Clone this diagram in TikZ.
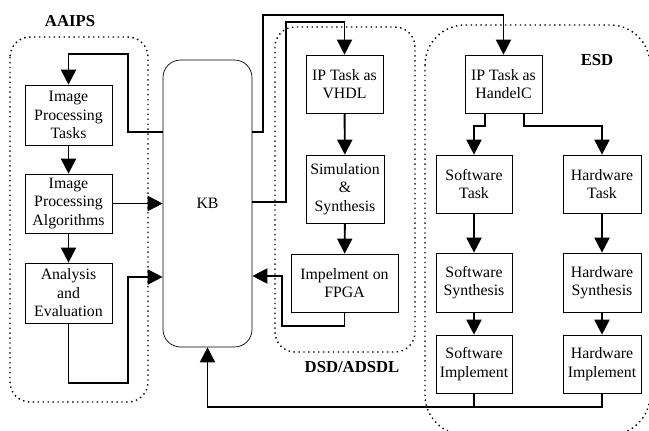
\documentclass[tikz,border=0pt]{standalone}
\usepackage{fontspec}
\setmainfont{Liberation Serif}
\usetikzlibrary{arrows.meta}

\tikzset{
	blk/.style={draw, thin, align=center, inner sep=1pt, font=\fontsize{9}{10.5}\selectfont},
	flow/.style={line width=1.1pt, -{Triangle[length=0.3cm,width=0.3cm]}},
	wire/.style={line width=1.1pt},
	zone/.style={dotted, thick, rounded corners=0.4cm},
	zonelabel/.style={font=\bfseries\fontsize{9.5}{11}\selectfont}
}

\begin{document}
\begin{tikzpicture}[x=0.02cm, y=-0.02cm]
	\useasboundingbox (0,0) rectangle (649,430);
	\clip (0,0) rectangle (649,430);
	% dotted groups
	\draw[zone] (10,37) rectangle (148,402);
	\draw[zone] (275,27) rectangle (415,352);
	\draw[zone, rounded corners=0.8cm] (425,25) rectangle (650,435);
	\node[zonelabel] (laaips) at (70,21) {AAIPS};
	\node[zonelabel] (ldsd) at (352,367) {DSD/ADSDL};
	\node[zonelabel] (lesd) at (597,60) {ESD};
	% AAIPS
	\node[blk, minimum width=1.74cm, minimum height=1.2cm] (tasks) at (68.5,115) {Image\\Processing\\Tasks};
	\node[blk, minimum width=1.74cm, minimum height=1.18cm] (algo) at (68.5,203.5) {Image\\Processing\\Algorithms};
	\node[blk, minimum width=1.74cm, minimum height=1.2cm] (eval) at (68.5,293) {Analysis\\and\\Evaluation};
	% knowledge base
	\node[draw, thin, rounded corners=0.35cm, minimum width=1.78cm, minimum height=5.74cm, font=\fontsize{9}{10.5}\selectfont] (kb) at (207.5,203.5) {KB};
	% DSD/ADSDL
	\node[blk, minimum width=1.54cm, minimum height=1.16cm] (vhdl) at (344.5,84) {IP Task as\\VHDL};
	\node[blk, minimum width=1.56cm, minimum height=1.36cm] (sim) at (345,189) {Simulation\\\&\\Synthesis};
	\node[blk, minimum width=2.14cm, minimum height=1.16cm] (fpga) at (344.5,283) {Impelment on\\FPGA};
	% ESD
	\node[blk, minimum width=1.54cm, minimum height=1.16cm] (handel) at (503.5,84) {IP Task as\\HandelC};
	\node[blk, minimum width=1.52cm, minimum height=1.16cm] (swtask) at (474,184) {Software\\Task};
	\node[blk, minimum width=1.56cm, minimum height=1.16cm] (hwtask) at (602,184) {Hardware\\Task};
	\node[blk, minimum width=1.52cm, minimum height=1.18cm] (swsyn) at (474,282.5) {Software\\Synthesis};
	\node[blk, minimum width=1.56cm, minimum height=1.18cm] (hwsyn) at (602,282.5) {Hardware\\Synthesis};
	\node[blk, minimum width=1.52cm, minimum height=1.16cm] (swimp) at (474,364) {Software\\Implement};
	\node[blk, minimum width=1.56cm, minimum height=1.16cm] (hwimp) at (602,364) {Hardware\\Implement};
	% AAIPS flow
	\draw[flow] (kb.west |- 0,132) -- (128,132) -- (128,54) -| (tasks.north);
	\draw[flow] (tasks) -- (algo);
	\draw[flow] (algo) -- (eval);
	\draw[flow] (algo.east) -- (algo.east -| kb.west);
	\draw[flow] (eval.south) |- (128,383) |- (kb.west |- 0,277);
	% DSD flow
	\draw[flow] (kb.east |- 0,202) -| (286,22) -| (vhdl.north);
	\draw[flow] (vhdl) -- (sim);
	\draw[flow] (sim) -- (fpga);
	\draw[flow] (fpga.south) |- (282,326) |- (kb.east |- 0,276);
	% ESD flow
	\draw[flow] (kb.east |- 0,132) -| (263,15) -| (handel.north);
	\draw[flow] (handel.south -| 485,0) -- (485,126) -| (swtask.north);
	\draw[flow] (handel.south -| 524,0) -- (524,126) -| (hwtask.north);
	\draw[flow] (swtask) -- (swsyn);
	\draw[flow] (swsyn) -- (swimp);
	\draw[flow] (hwtask) -- (hwsyn);
	\draw[flow] (hwsyn) -- (hwimp);
	\draw[wire] (swimp.south) -- (swimp.south |- 0,407);
	\draw[flow] (hwimp.south) |- (kb.south |- 0,407) -- (kb.south);
\end{tikzpicture}
\end{document}
